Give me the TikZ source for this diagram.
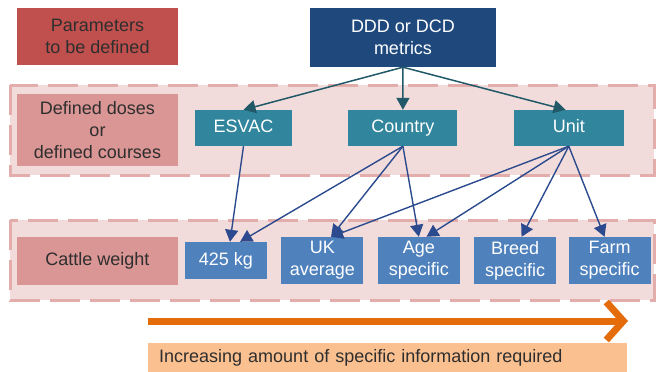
\documentclass[tikz,border=0pt]{standalone}
\usepackage{fontspec}
\setmainfont{Liberation Sans}
\usepackage{xcolor}
\usetikzlibrary{arrows.meta, positioning}

\definecolor{paramred}{HTML}{C0504D}
\definecolor{levelpink}{HTML}{D99694}
\definecolor{bandpink}{HTML}{F2DCDB}
\definecolor{dashpink}{HTML}{E3ADAC}
\definecolor{metricblue}{HTML}{1F497D}
\definecolor{srcteal}{HTML}{31859C}
\definecolor{wgtblue}{HTML}{4F81BD}
\definecolor{tealdark}{HTML}{215968}
\definecolor{bluedark}{HTML}{2B4B8E}
\definecolor{arroworange}{HTML}{E46C0A}
\definecolor{infoorange}{HTML}{FAC090}
\definecolor{textgrey}{HTML}{2E2E2E}

\tikzset{
  box/.style={inner sep=2pt, align=center},
  param/.style={box, fill=paramred, text=textgrey, minimum width=161pt, minimum height=57pt},
  level/.style={box, fill=levelpink, text=textgrey, minimum width=161pt},
  metric/.style={box, fill=metricblue, text=white, minimum width=186pt, minimum height=59pt},
  src/.style={box, fill=srcteal, text=white, minimum height=36pt, text height=13pt, text depth=4pt},
  wgt/.style={box, fill=wgtblue, text=white, minimum width=82pt, minimum height=47pt},
  band/.style={fill=bandpink, draw=dashpink, line width=3pt, dash pattern=on 30pt off 10pt},
  toplink/.style={draw=tealdark, line width=1.5pt, -{Triangle[length=12pt,width=13pt]}},
  lowlink/.style={draw=bluedark, line width=1.4pt, -{Triangle[length=12pt,width=13pt]}},
  progress/.style={draw=arroworange, line width=7pt, -{Straight Barb[length=17pt,width=38pt]}},
  info/.style={fill=infoorange, text=textgrey, inner xsep=11pt, text width=457pt, minimum height=30pt, align=left}
}

\begin{document}
\begin{tikzpicture}[x=1pt, y=-1pt, font=\fontsize{18}{22}\selectfont, node distance=14pt]
\useasboundingbox (0,0) rectangle (657,372);

% dashed bands
\draw[band] (10,85) rectangle (654,175);
\draw[band] (10,220) rectangle (654,300);

% row labels
\node[param] (par) at (97.5,36.5) {Parameters\\to be defined};
\node[level, minimum height=72pt] (dose) at (97.5,130) {Defined doses\\or\\defined courses};
\node[level, minimum height=48pt] (wt) at (97.5,261) {Cattle weight};

% metric and sources
\node[metric] (ddd) at (403,37.5) {DDD or DCD\\metrics};
\node[src, minimum width=97pt] (esvac) at (243.5,128) {ESVAC};
\node[src, minimum width=109pt, right=56pt of esvac] (country) {Country};
\node[src, minimum width=110pt, right=56pt of country] (unit) {Unit};

% weights
\node[wgt, minimum height=37pt, text height=13pt, text depth=4pt] (kg) at (226,260.5) {425 kg};
\node[wgt, right=of kg] (uk) {UK\\average};
\node[wgt, right=of uk] (age) {Age\\specific};
\node[wgt, right=of age] (breed) {Breed\\specific};
\node[wgt, right=12pt of breed] (farm) {Farm\\specific};

\draw[toplink] (ddd.south) -- (esvac.north);
\draw[toplink] (ddd.south) -- (country.north);
\draw[toplink] (ddd.south) -- (unit.100);

\draw[lowlink] (esvac.south) -- (kg.78);
\draw[lowlink] (country.south) -- (kg.53);
\draw[lowlink] (country.south) -- (uk.70);
\draw[lowlink] (country.south) -- (age.north);
\draw[lowlink] (unit.south) -- (uk.70);
\draw[lowlink] (unit.south) -- (age.72);
\draw[lowlink] (unit.south) -- (breed.75);
\draw[lowlink] (unit.south) -- (farm.102);

% specificity arrow
\coordinate (lo) at (148,321);
\coordinate (hi) at (628,321);
\draw[progress] (lo) -- (hi);
\node[info, anchor=west] (req) at (148,358) {Increasing amount of specific information required};
\end{tikzpicture}
\end{document}
